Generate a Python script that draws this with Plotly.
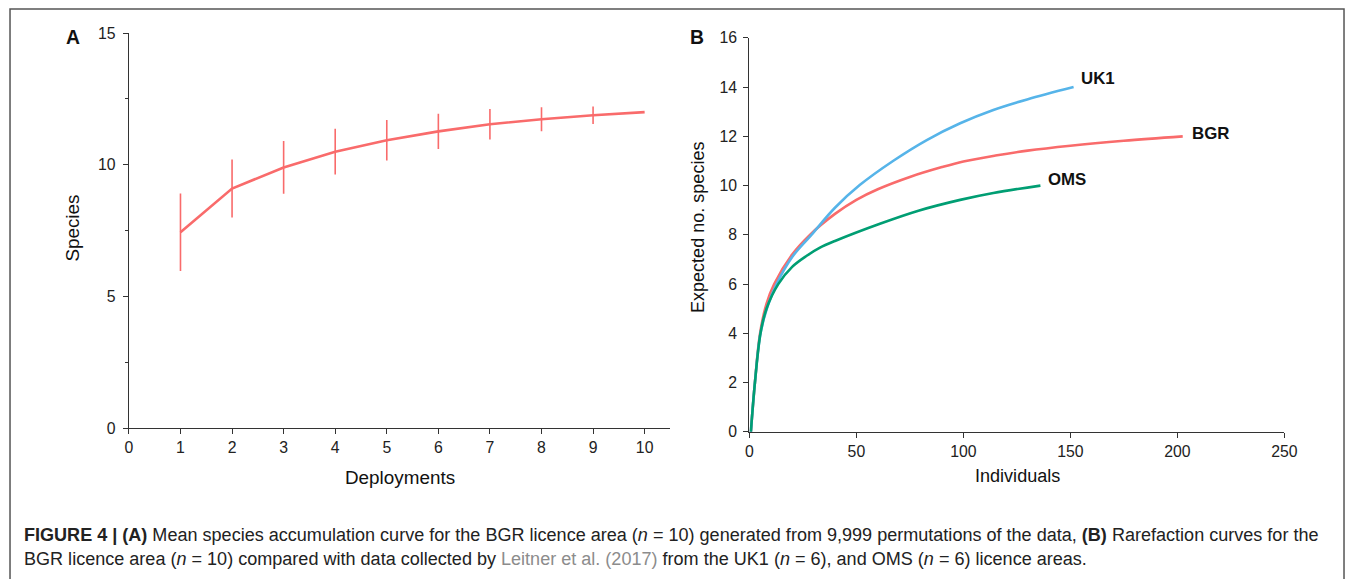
import plotly.graph_objects as go

W, H = 1358, 579

# ---------------- data ----------------
deployments = [1, 2, 3, 4, 5, 6, 7, 8, 9, 10]
species_mean = [7.44, 9.10, 9.90, 10.50, 10.93, 11.27, 11.54, 11.73, 11.88, 12.00]
species_err = [1.47, 1.10, 1.00, 0.87, 0.77, 0.67, 0.58, 0.46, 0.33, 0.0]

bgr_n = [0.7, 2.6, 5.0, 8.0, 11.6, 20, 28.3, 40, 50, 60, 75, 90, 100, 115, 130, 150, 175, 202.5]
bgr_s = [0.0, 2.0, 4.0, 5.2, 6.0, 7.2, 8.0, 8.85, 9.42, 9.85, 10.35, 10.75, 10.98, 11.22, 11.42, 11.62, 11.82, 12.0]

uk1_n = [0.7, 2.6, 5.2, 8.5, 12.7, 20, 29, 40, 51.7, 67.3, 82.9, 98.5, 114, 129.8, 151.5]
uk1_s = [0.0, 2.0, 4.0, 5.1, 6.0, 7.1, 8.0, 9.1, 10.03, 11.01, 11.85, 12.53, 13.07, 13.5, 14.0]

oms_n = [0.7, 2.6, 5.2, 8.0, 13.5, 20, 26.8, 33, 40, 61, 79, 98.5, 114, 136]
oms_s = [0.0, 2.0, 4.0, 5.0, 6.0, 6.7, 7.15, 7.48, 7.75, 8.45, 8.98, 9.42, 9.70, 10.0]

x_ticks_a = [0, 1, 2, 3, 4, 5, 6, 7, 8, 9, 10]
y_ticks_a = [0, 5, 10, 15]
y_minor_a = [2.5, 7.5, 12.5]
x_ticks_b = [0, 50, 100, 150, 200, 250]
y_ticks_b = [0, 2, 4, 6, 8, 10, 12, 14, 16]

RED = "#F96B6B"
BLUE = "#56B4E9"
GREEN = "#009E73"
AXC = "#333333"
FONT = "Liberation Sans"

# The page is photographed slightly fitted to the window; map target pixel
# positions to paper fractions accordingly.
SX = (W + 16) / W
SY = (H + 16) / H
FS = 1.02  # font compensation for the fit


def PX(ref):
    return min(max((ref * SX - 2) / W, 0), 1)


def PY(ref):
    return min(max(1 - (ref * SY - 8) / H, -0.2), 1)


fig = go.Figure()

fig.add_trace(go.Scatter(
    x=deployments, y=species_mean, mode="lines",
    line=dict(color=RED, width=2.6),
    error_y=dict(type="data", array=species_err, visible=True, color=RED,
                 thickness=1.6, width=0),
    xaxis="x", yaxis="y", showlegend=False, hoverinfo="skip"))

for n, s, c in [(bgr_n, bgr_s, RED), (uk1_n, uk1_s, BLUE), (oms_n, oms_s, GREEN)]:
    fig.add_trace(go.Scatter(
        x=n, y=s, mode="lines", line=dict(color=c, width=2.6, shape="spline", smoothing=1.0),
        xaxis="x2", yaxis="y2", showlegend=False, hoverinfo="skip", cliponaxis=False))

axis_common = dict(showline=True, linecolor=AXC, linewidth=1.3, ticks="outside",
                   ticklen=5, tickwidth=1.2, tickcolor=AXC, showgrid=False,
                   zeroline=False, tickfont=dict(family=FONT, size=15.5 * FS, color="#222"))

fig.update_layout(
    width=W, height=H,
    margin=dict(l=0, r=0, t=0, b=0),
    paper_bgcolor="white", plot_bgcolor="white",
    font=dict(family=FONT, color="#222"),
    xaxis=dict(domain=[PX(127), PX(669)], range=[0, 10.5], tickvals=x_ticks_a,
               anchor="y", **axis_common),
    yaxis=dict(domain=[PY(429), PY(33)], range=[0, 15], tickvals=y_ticks_a,
               anchor="x", ticklabelstandoff=4,
               minor=dict(tickvals=y_minor_a, ticks="outside", ticklen=3, tickcolor=AXC),
               **axis_common),
    xaxis2=dict(domain=[PX(748), PX(1283.5)], range=[0, 250], tickvals=x_ticks_b,
                anchor="y2", **axis_common),
    yaxis2=dict(domain=[PY(432.7), PY(37.7)], range=[0, 16], tickvals=y_ticks_b,
                anchor="x2", ticklabelstandoff=3, **axis_common),
)

# outer frame
fig.add_shape(type="rect", xref="paper", yref="paper",
              x0=PX(8), x1=1 - 1 / W, y0=-0.1, y1=1 - 1 / H,
              line=dict(color="#555555", width=1.5), fillcolor="rgba(0,0,0,0)")


def ann(text, x, y, size, bold=False, angle=0, xanchor="center", color="#111"):
    fig.add_annotation(text=f"<b>{text}</b>" if bold else text,
                       x=PX(x), y=PY(y), xref="paper", yref="paper",
                       showarrow=False, textangle=angle, xanchor=xanchor, yanchor="middle",
                       font=dict(family=FONT, size=size * FS, color=color))


ann("A", 71, 37, 19, bold=True)
ann("B", 696, 37, 19, bold=True)
ann("Deployments", 398, 478, 18.5)
ann("Species", 71, 228, 18.5, angle=-90)
ann("Individuals", 1016, 477, 17.7)
ann("Expected no. species", 696, 227, 17.7, angle=-90)

# curve labels (data coords of panel B)
for txt, x, y in [("UK1", 154, 14.36), ("BGR", 206, 12.13), ("OMS", 138.5, 10.26)]:
    fig.add_annotation(text=f"<b>{txt}</b>", x=x, y=y, xref="x2", yref="y2",
                       showarrow=False, xanchor="left", yanchor="middle",
                       font=dict(family=FONT, size=16.5 * FS, color="#111"))

line1 = ("<b>FIGURE 4 | (A)</b> Mean species accumulation curve for the BGR licence area "
         "(<i>n</i> = 10) generated from 9,999 permutations of the data, <b>(B)</b> "
         "Rarefaction curves for the")
line2 = ("BGR licence area (<i>n</i> = 10) compared with data collected by "
         "<span style='color:#8c8c8c'>Leitner et al. (2017)</span> from the UK1 (<i>n</i> = 6), "
         "and OMS (<i>n</i> = 6) licence areas.")
ann(line1, 20, 536, 17.7, xanchor="left", color="#222")
ann(line2, 20, 560, 17.7, xanchor="left", color="#222")

fig.write_html("out.html")
